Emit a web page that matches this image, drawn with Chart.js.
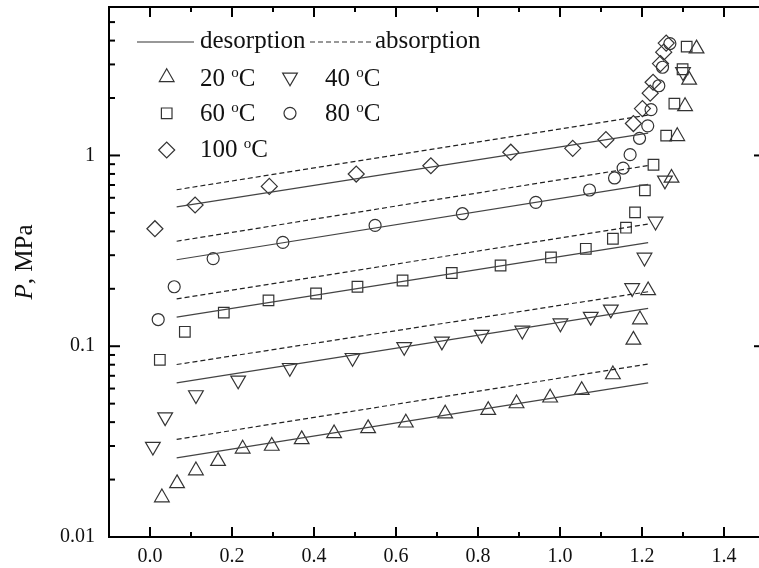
<!DOCTYPE html>
<html>
<head>
<meta charset="utf-8">
<script src="https://cdn.jsdelivr.net/npm/chart.js@4"></script>
<style>
  html, body { margin: 0; padding: 0; background: #fff; overflow: hidden; }
  #wrap { width: 768px; height: 568px; }
</style>
</head>
<body>
<div id="wrap"><canvas id="myChart" width="768" height="568"></canvas></div>
<script>
// axis ticks
var xTickValues = [0, 0.2, 0.4, 0.6, 0.8, 1.0, 1.2, 1.4]
var xTickLabels = ['0.0', '0.2', '0.4', '0.6', '0.8', '1.0', '1.2', '1.4']
var xMinorTicks = [-0.1, 0.1, 0.3, 0.5, 0.7, 0.9, 1.1, 1.3, 1.5]
var yTickValues = [0.01, 0.1, 1]
var yTickLabels = ['0.01', '0.1', '1']

// measured points (x, P in MPa)
var t20x = [0.029, 0.066, 0.112, 0.166, 0.226, 0.297, 0.370, 0.449, 0.532, 0.624, 0.720, 0.825, 0.894, 0.976, 1.053, 1.129, 1.179, 1.195, 1.215, 1.272, 1.286, 1.305, 1.315, 1.333]
var t20y = [0.0161, 0.0191, 0.0223, 0.0250, 0.0290, 0.0300, 0.0325, 0.0349, 0.0371, 0.0397, 0.0443, 0.0462, 0.0501, 0.0537, 0.0588, 0.0711, 0.108, 0.138, 0.196, 0.762, 1.26, 1.81, 2.49, 3.63]

var t40x = [0.007, 0.037, 0.112, 0.215, 0.341, 0.494, 0.620, 0.712, 0.809, 0.908, 1.001, 1.075, 1.124, 1.176, 1.206, 1.233, 1.256, 1.300]
var t40y = [0.0298, 0.0425, 0.0555, 0.0663, 0.0771, 0.0870, 0.0993, 0.106, 0.115, 0.121, 0.132, 0.143, 0.156, 0.202, 0.292, 0.451, 0.740, 2.74]

var t60x = [0.024, 0.085, 0.180, 0.289, 0.405, 0.506, 0.616, 0.736, 0.855, 0.978, 1.063, 1.129, 1.161, 1.183, 1.207, 1.228, 1.259, 1.279, 1.299, 1.309]
var t60y = [0.0849, 0.119, 0.150, 0.174, 0.189, 0.205, 0.221, 0.242, 0.265, 0.292, 0.324, 0.366, 0.418, 0.503, 0.656, 0.894, 1.27, 1.87, 2.83, 3.72]

var t80x = [0.020, 0.059, 0.154, 0.324, 0.549, 0.762, 0.941, 1.072, 1.133, 1.154, 1.171, 1.194, 1.214, 1.222, 1.241, 1.250, 1.268]
var t80y = [0.138, 0.205, 0.288, 0.350, 0.430, 0.495, 0.568, 0.659, 0.762, 0.859, 1.01, 1.23, 1.43, 1.74, 2.32, 2.90, 3.86]

var t100x = [0.012, 0.110, 0.291, 0.503, 0.685, 0.880, 1.031, 1.112, 1.179, 1.201, 1.220, 1.227, 1.245, 1.253, 1.259]
var t100y = [0.413, 0.550, 0.688, 0.799, 0.883, 1.04, 1.09, 1.21, 1.47, 1.76, 2.12, 2.42, 3.03, 3.48, 3.88]

// fitted lines, start and end
var fitX = [0.065, 1.215]
var des20 = [0.0260, 0.0642]
var des40 = [0.0643, 0.158]
var des60 = [0.142, 0.349]
var des80 = [0.284, 0.705]
var des100 = [0.537, 1.31]
var abs20 = [0.0325, 0.0807]
var abs40 = [0.0802, 0.193]
var abs60 = [0.177, 0.437]
var abs80 = [0.355, 0.885]
var abs100 = [0.661, 1.63]

var tempLabels = ['20', '40', '60', '80', '100']
var lineLabels = ['desorption', 'absorption']

var serif = '"Liberation Serif", "Times New Roman", serif'

function pts(xs, ys) {
    var out = []
    for (let i = 0; i < xs.length; i++) {
        out.push({ x: xs[i], y: ys[i] })
    }
    return out
}

function markerSet(xs, ys, style, r, rot) {
    return {
        data: pts(xs, ys),
        showLine: false,
        pointStyle: style,
        pointRadius: r,
        pointRotation: rot || 0,
        pointBorderWidth: 1.2,
        pointBorderColor: '#333',
        pointBackgroundColor: 'rgba(0,0,0,0)',
        pointHoverRadius: r
    }
}

function lineSet(ys, dashed) {
    return {
        data: pts(fitX, ys),
        showLine: true,
        pointRadius: 0,
        borderWidth: 1.2,
        borderColor: dashed ? '#222' : '#444',
        borderDash: dashed ? [5, 3] : [],
        fill: false
    }
}

var markers = [
    { style: 'triangle', r: 8.5, rot: 0 },
    { style: 'triangle', r: 8.5, rot: 180 },
    { style: 'rect', r: 7.5, rot: 0 },
    { style: 'circle', r: 6, rot: 0 },
    { style: 'rectRot', r: 8, rot: 0 }
]

var datasets = [
    lineSet(des20, false), lineSet(abs20, true),
    lineSet(des40, false), lineSet(abs40, true),
    lineSet(des60, false), lineSet(abs60, true),
    lineSet(des80, false), lineSet(abs80, true),
    lineSet(des100, false), lineSet(abs100, true),
    markerSet(t20x, t20y, markers[0].style, markers[0].r, markers[0].rot),
    markerSet(t40x, t40y, markers[1].style, markers[1].r, markers[1].rot),
    markerSet(t60x, t60y, markers[2].style, markers[2].r, markers[2].rot),
    markerSet(t80x, t80y, markers[3].style, markers[3].r, markers[3].rot),
    markerSet(t100x, t100y, markers[4].style, markers[4].r, markers[4].rot)
]

function line(ctx, x1, y1, x2, y2) {
    ctx.beginPath()
    ctx.moveTo(x1, y1)
    ctx.lineTo(x2, y2)
    ctx.stroke()
}

// "20 °C" with a raised small o
function degText(ctx, num, x, y) {
    ctx.font = '25px ' + serif
    ctx.fillText(num + ' ', x, y)
    var w = ctx.measureText(num + ' ').width
    ctx.font = '15px ' + serif
    ctx.fillText('o', x + w, y - 9)
    var wo = ctx.measureText('o').width
    ctx.font = '25px ' + serif
    ctx.fillText('C', x + w + wo, y)
}

// stop chart.js from adding room for the edge labels
function noPad(s) {
    s.paddingTop = 0
    s.paddingBottom = 0
    s.paddingLeft = 0
    s.paddingRight = 0
}

var framePlugin = {
    id: 'frame',
    afterDatasetsDraw(chart) {
        var ctx = chart.ctx
        var a = chart.chartArea
        var xs = chart.scales.x, ys = chart.scales.y
        ctx.save()
        ctx.strokeStyle = '#000'
        ctx.lineWidth = 2
        ctx.setLineDash([])
        ctx.strokeRect(a.left, a.top, a.right - a.left, a.bottom - a.top)

        xTickValues.forEach(v => {
            var px = xs.getPixelForValue(v)
            line(ctx, px, a.bottom, px, a.bottom - 10)
            line(ctx, px, a.top, px, a.top + 10)
        })
        xMinorTicks.forEach(v => {
            var px = xs.getPixelForValue(v)
            line(ctx, px, a.bottom, px, a.bottom - 5)
            line(ctx, px, a.top, px, a.top + 5)
        })
        yTickValues.forEach(v => {
            var py = ys.getPixelForValue(v)
            line(ctx, a.left, py, a.left + 11, py)
            line(ctx, a.right, py, a.right - 11, py)
        })
        for (let d = 0.01; d < 5; d *= 10) {
            for (let m = 2; m <= 9; m++) {
                var v = d * m
                if (v > ys.max) break
                var py = ys.getPixelForValue(v)
                line(ctx, a.left, py, a.left + 6, py)
                line(ctx, a.right, py, a.right - 6, py)
            }
        }

        // y title
        ctx.fillStyle = '#111'
        ctx.translate(31.5, 262)
        ctx.rotate(-Math.PI / 2)
        ctx.font = 'italic 25px ' + serif
        var w1 = ctx.measureText('P').width
        ctx.font = '25px ' + serif
        var w2 = ctx.measureText(', MPa').width
        var sx = -(w1 + w2) / 2
        ctx.font = 'italic 25px ' + serif
        ctx.fillText('P', sx, 0)
        ctx.font = '25px ' + serif
        ctx.fillText(', MPa', sx + w1, 0)
        ctx.restore()

        // legend
        ctx.save()
        ctx.fillStyle = '#111'
        ctx.strokeStyle = '#333'
        ctx.lineWidth = 1.2
        line(ctx, 137, 42, 194, 42)
        ctx.setLineDash([5, 3])
        line(ctx, 310, 42, 371, 42)
        ctx.setLineDash([])
        ctx.font = '25px ' + serif
        ctx.fillText(lineLabels[0], 200, 48)
        ctx.fillText(lineLabels[1], 375, 48)

        var cells = [
            { mx: 166.7, tx: 200, my: 77.3, ty: 86 },
            { mx: 290, tx: 325, my: 77.3, ty: 86 },
            { mx: 166.7, tx: 200, my: 113.3, ty: 121 },
            { mx: 290, tx: 325, my: 113.3, ty: 121 },
            { mx: 166.7, tx: 200, my: 150, ty: 157 }
        ]
        cells.forEach((c, i) => {
            ctx.strokeStyle = '#333'
            ctx.fillStyle = 'rgba(0,0,0,0)'
            ctx.lineWidth = 1.2
            Chart.helpers.drawPoint(ctx, {
                pointStyle: markers[i].style,
                radius: markers[i].r,
                rotation: markers[i].rot,
                borderWidth: 1.2
            }, c.mx, c.my)
            ctx.fillStyle = '#111'
            degText(ctx, tempLabels[i], c.tx, c.ty)
        })
        ctx.restore()
    }
}

// canvas is a bit wider than the window: the right frame edge (x = 1.5) falls just off screen
var myChart = new Chart(document.getElementById('myChart').getContext('2d'), {
    type: 'scatter',
    data: { datasets: datasets },
    options: {
        responsive: false,
        animation: false,
        layout: { autoPadding: false, padding: { top: 7, right: 3, left: 0, bottom: 0 } },
        plugins: {
            legend: { display: false },
            tooltip: { enabled: false }
        },
        scales: {
            x: {
                type: 'linear',
                min: -0.1,
                max: 1.5,
                bounds: 'data',
                grid: { display: false, drawTicks: false },
                border: { display: false },
                afterBuildTicks: s => { s.ticks = xTickValues.map(v => ({ value: v })) },
                afterFit: s => { s.height = 31; noPad(s) },
                ticks: {
                    autoSkip: false,
                    maxRotation: 0,
                    padding: 8,
                    color: '#111',
                    font: { family: serif, size: 20 },
                    callback: (v, i) => xTickLabels[i]
                }
            },
            y: {
                type: 'logarithmic',
                min: 0.01,
                max: 6,
                grid: { display: false, drawTicks: false },
                border: { display: false },
                afterBuildTicks: s => { s.ticks = yTickValues.map(v => ({ value: v })) },
                afterFit: s => { s.width = 109; noPad(s) },
                ticks: {
                    autoSkip: false,
                    padding: 14,
                    color: '#111',
                    font: { family: serif, size: 20 },
                    callback: (v, i) => yTickLabels[i]
                }
            }
        }
    },
    plugins: [framePlugin]
})
</script>
</body>
</html>
